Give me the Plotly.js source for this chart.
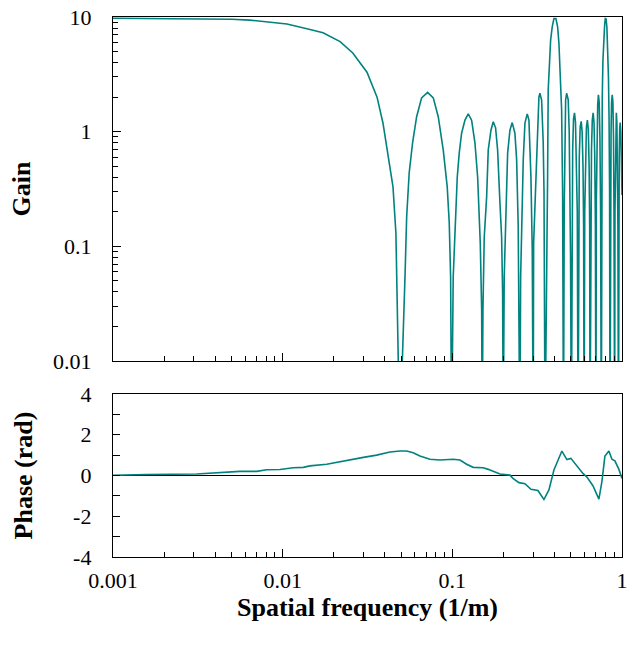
<!DOCTYPE html>
<html>
<head>
<meta charset="utf-8">
<script src="https://cdn.plot.ly/plotly-3.0.1.min.js"></script>
<style>
  html, body { margin: 0; padding: 0; background: #ffffff; }
  #chart { width: 628px; height: 650px; }
</style>
</head>
<body>
<div id="chart"></div>
<script>
// ---- Data ----
// Gain vs spatial frequency (1/m); values below 0.01 mark the deep nulls
var gainFreq = [
  0.001, 0.0015, 0.002, 0.003, 0.004, 0.005, 0.0064, 0.008, 0.0106, 0.0139, 0.0173, 0.0218, 0.0259, 0.0314, 0.036, 0.039, 0.0417, 0.0447, 0.0465, 0.0478, 0.049,
  0.0526, 0.0538, 0.0557, 0.0583, 0.0616, 0.0659, 0.0715, 0.0772, 0.0826, 0.0884, 0.0933, 0.0959, 0.0977, 0.099,
  0.1012, 0.104, 0.1069, 0.1098, 0.1134, 0.1187, 0.1241, 0.1299, 0.1359, 0.141, 0.1435, 0.1461, 0.1489, 0.150,
  0.1515, 0.1542, 0.1593, 0.1628, 0.1689, 0.1742, 0.1799, 0.1849, 0.1908, 0.1952, 0.1979, 0.1995,
  0.2022, 0.2061, 0.2118, 0.2185, 0.2254, 0.2338, 0.2393, 0.2445, 0.2479, 0.250,
  0.2527, 0.2562, 0.2618, 0.2679, 0.2764, 0.2828, 0.2906, 0.2958, 0.2997,
  0.3014, 0.3067, 0.3139, 0.3182, 0.3238, 0.3282, 0.3359, 0.3433, 0.347, 0.352,
  0.3609, 0.3643, 0.3673, 0.3724, 0.3796, 0.3879, 0.397, 0.4079, 0.4174, 0.4249, 0.4324, 0.4407, 0.4467, 0.4503, 0.452,
  0.4565, 0.4608, 0.4653, 0.4717, 0.4819, 0.4885, 0.4932, 0.4975, 0.503,
  0.507, 0.512, 0.518, 0.525, 0.532, 0.539, 0.545, 0.551,
  0.555, 0.560, 0.567, 0.575, 0.582, 0.589, 0.594, 0.598,
  0.603, 0.609, 0.617, 0.625, 0.633, 0.640, 0.645, 0.648,
  0.654, 0.661, 0.668, 0.676, 0.684, 0.691, 0.697, 0.702,
  0.706, 0.712, 0.719, 0.726, 0.734, 0.741, 0.748, 0.755,
  0.760, 0.765, 0.772, 0.781, 0.790, 0.797, 0.806, 0.815, 0.824, 0.832, 0.839, 0.845, 0.850,
  0.855, 0.862, 0.868, 0.876, 0.884, 0.891, 0.897, 0.905,
  0.909, 0.915, 0.920, 0.926, 0.933, 0.940, 0.946, 0.953,
  0.957, 0.963, 0.969, 0.976, 0.984, 0.992, 1.0
];
var gainValue = [
  9.75, 9.72, 9.7, 9.62, 9.6, 9.55, 9.4, 9.1, 8.7, 7.9, 7.3, 6.1, 4.85, 3.3, 2.0, 1.19, 0.65, 0.33, 0.13, 0.034, 0.002,
  0.054, 0.18, 0.44, 0.8, 1.35, 1.97, 2.2, 1.97, 1.35, 0.69, 0.33, 0.16, 0.054, 0.002,
  0.054, 0.15, 0.4, 0.65, 0.97, 1.26, 1.43, 1.26, 0.8, 0.4, 0.21, 0.107, 0.028, 0.002,
  0.028, 0.12, 0.27, 0.69, 1.03, 1.22, 1.08, 0.69, 0.24, 0.12, 0.039, 0.002,
  0.054, 0.18, 0.65, 1.03, 1.2, 0.97, 0.57, 0.15, 0.039, 0.002,
  0.054, 0.12, 0.57, 1.19, 1.43, 1.26, 0.4, 0.093, 0.002,
  0.107, 0.21, 0.65, 1.26, 2.0, 2.16, 1.89, 0.8, 0.3, 0.002,
  0.054, 0.4, 2.3, 4.2, 6.3, 8.2, 9.7, 9.7, 8.2, 5.9, 3.45, 1.55, 0.29, 0.054, 0.002,
  0.21, 0.8, 1.9, 2.16, 1.9, 1.0, 0.4, 0.08, 0.002,
  0.2, 0.7, 1.3, 1.46, 1.2, 0.6, 0.2, 0.002,
  0.2, 0.6, 1.1, 1.23, 1.0, 0.5, 0.15, 0.002,
  0.2, 0.6, 1.1, 1.26, 1.05, 0.5, 0.15, 0.002,
  0.2, 0.7, 1.25, 1.46, 1.2, 0.6, 0.15, 0.002,
  0.25, 0.8, 1.7, 2.1, 1.8, 0.9, 0.2, 0.002,
  0.3, 2.0, 4.2, 6.6, 8.5, 9.7, 9.6, 8.0, 5.5, 3.0, 1.3, 0.3, 0.002,
  0.3, 1.0, 1.8, 2.1, 1.8, 0.9, 0.2, 0.002,
  0.2, 0.7, 1.25, 1.46, 1.2, 0.6, 0.15, 0.002,
  0.2, 0.6, 1.05, 1.2, 1.0, 0.6, 0.28
];

// Phase (rad) vs spatial frequency (1/m)
var phaseFreq = [
  0.001, 0.00158, 0.00311, 0.00373, 0.0056, 0.00703, 0.00805, 0.00964, 0.01155, 0.01323, 0.01449, 0.01817, 0.0208, 0.0249, 0.0299, 0.0358,
  0.0429, 0.0491, 0.0538, 0.0588, 0.0644, 0.0738, 0.0845, 0.1012, 0.1109, 0.1214, 0.1328, 0.1521, 0.1628, 0.1908, 0.2185, 0.2276, 0.2469,
  0.2679, 0.2906, 0.3195, 0.3466, 0.3709, 0.397, 0.4423, 0.4734, 0.4999, 0.5424, 0.5884, 0.6214, 0.6739, 0.7309, 0.7613, 0.793, 0.8373,
  0.872, 0.9082, 0.9588, 1.0
];
var phaseValue = [
  0.01, 0.05, 0.07, 0.12, 0.2, 0.2, 0.28, 0.29, 0.38, 0.4, 0.47, 0.55, 0.65, 0.76, 0.89, 1.0,
  1.15, 1.2, 1.2, 1.12, 0.96, 0.8, 0.76, 0.8, 0.76, 0.55, 0.4, 0.38, 0.3, 0.07, 0.02, -0.14, -0.35,
  -0.4, -0.68, -0.74, -1.18, -0.71, 0.27, 1.2, 0.78, 0.84, 0.45, 0.1, -0.08, -0.5, -1.16, -0.3, 0.95, 1.2,
  0.8, 0.72, 0.3, -0.15
];

// Axis tick values / labels
var freqTicks = [0.001, 0.01, 0.1, 1];
var freqTickText = ['0.001', '0.01', '0.1', '1'];
var gainTicks = [0.01, 0.1, 1, 10];
var gainTickText = ['0.01', '0.1', '1', '10'];
var phaseTicks = [-4, -3, -2, -1, 0, 1, 2, 3, 4];
var phaseTickText = ['-4', '', '-2', '', '0', '', '2', '', '4'];

// minor log ticks (2..9 of every decade)
function logMinor(lo, hi) {
  var out = [];
  for (var d = lo; d < hi; d++) {
    for (var k = 2; k <= 9; k++) out.push(k * Math.pow(10, d));
  }
  return out;
}

var lineColor = '#00827f';
var fontFam = '"Liberation Serif", "Times New Roman", Times, serif';

var traces = [
  {
    x: gainFreq, y: gainValue, xaxis: 'x', yaxis: 'y',
    type: 'scatter', mode: 'lines',
    line: {color: lineColor, width: 1.6},
    hoverinfo: 'x+y', showlegend: false
  },
  {
    x: phaseFreq, y: phaseValue, xaxis: 'x2', yaxis: 'y2',
    type: 'scatter', mode: 'lines',
    line: {color: lineColor, width: 1.6},
    hoverinfo: 'x+y', showlegend: false
  }
];

var axisCommon = {
  showline: true, linecolor: '#000', linewidth: 1.2, mirror: true,
  showgrid: false, zeroline: false,
  ticks: 'inside', tickcolor: '#000', tickwidth: 1.2,
  tickfont: {family: fontFam, size: 22, color: '#000'}
};

var layout = {
  width: 628, height: 650,
  margin: {l: 113, r: 6, t: 17, b: 93},
  paper_bgcolor: '#ffffff', plot_bgcolor: '#ffffff',
  font: {family: fontFam, color: '#000'},
  showlegend: false,
  xaxis: Object.assign({}, axisCommon, {
    type: 'log', range: [-3, 0], domain: [0, 1], anchor: 'y',
    tickvals: freqTicks, ticktext: freqTickText, showticklabels: false,
    ticklen: 8,
    minor: {tickvals: logMinor(-3, 0), ticks: 'inside', ticklen: 5, tickcolor: '#000', tickwidth: 1}
  }),
  yaxis: Object.assign({}, axisCommon, {
    type: 'log', range: [-2, 1], domain: [0.363, 1], anchor: 'x',
    tickvals: gainTicks, ticktext: gainTickText,
    ticklen: 8, ticklabelstandoff: 16,
    minor: {tickvals: logMinor(-2, 1), ticks: 'inside', ticklen: 5, tickcolor: '#000', tickwidth: 1},
    title: {text: '<b>Gain</b>', font: {family: fontFam, size: 26, color: '#000'}, standoff: 14}
  }),
  xaxis2: Object.assign({}, axisCommon, {
    type: 'log', range: [-3, 0], domain: [0, 1], anchor: 'y2',
    tickvals: freqTicks, ticktext: freqTickText,
    ticklen: 8, ticklabelstandoff: 3,
    minor: {tickvals: logMinor(-3, 0), ticks: 'inside', ticklen: 5, tickcolor: '#000', tickwidth: 1},
    title: {text: '<b>Spatial frequency (1/m)</b>', font: {family: fontFam, size: 26, color: '#000'}, standoff: 2}
  }),
  yaxis2: Object.assign({}, axisCommon, {
    range: [-4, 4], domain: [0, 0.3019], anchor: 'x2',
    tickvals: phaseTicks, ticktext: phaseTickText,
    ticklen: 7, ticklabelstandoff: 16,
    zeroline: true, zerolinecolor: '#000', zerolinewidth: 1.2,
    title: {text: '<b>Phase (rad)</b>', font: {family: fontFam, size: 26, color: '#000'}, standoff: 33}
  })
};

Plotly.newPlot('chart', traces, layout, {displayModeBar: false, staticPlot: true});
</script>
</body>
</html>
